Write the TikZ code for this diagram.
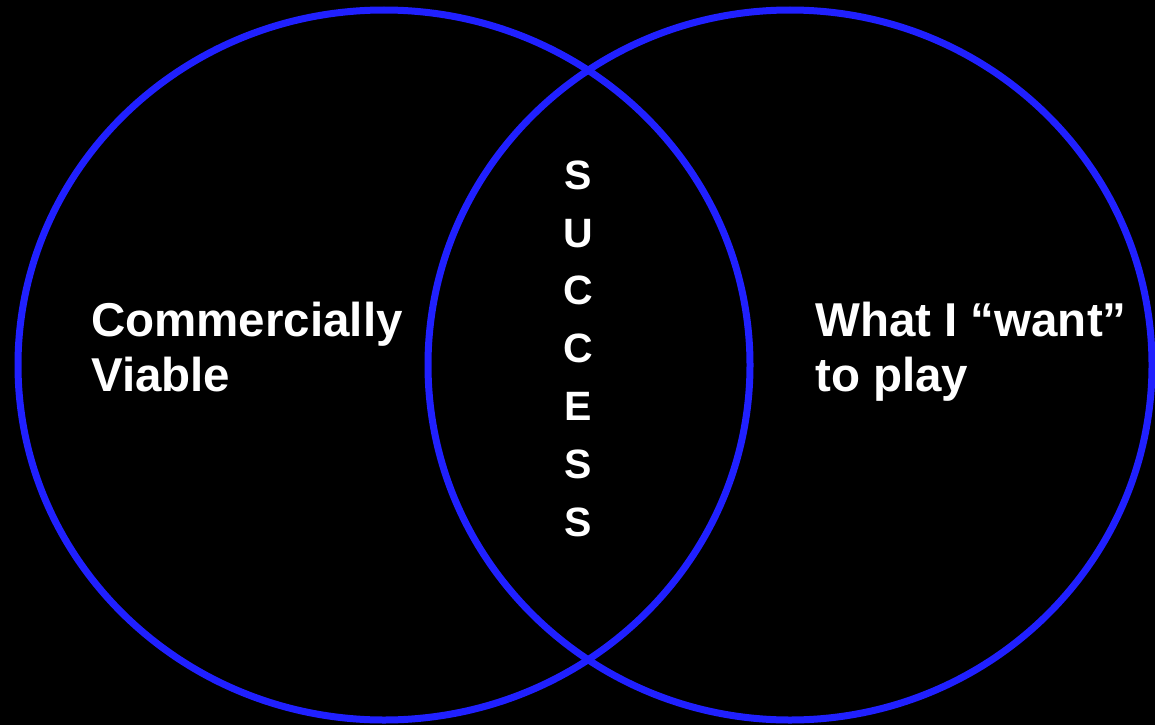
\documentclass[tikz,border=0pt]{standalone}
\usepackage{fontspec}
\setmainfont{Liberation Sans}
\definecolor{ringblue}{RGB}{32,32,255}
\begin{document}
\begin{tikzpicture}[x=1pt,y=-1pt,
  ring/.style={draw=ringblue,line width=7pt},
  label/.style={text=white,font=\bfseries\fontsize{47.5}{55}\selectfont,inner sep=0pt,align=left,anchor=base west},
  stack/.style={text=white,font=\bfseries\fontsize{41}{57.8}\selectfont,inner sep=0pt,align=center,anchor=base}]
  \fill[black] (0,0) rectangle (1155,725);
  \useasboundingbox (0,0) rectangle (1155,725);
  % two overlapping circles
  \draw[ring] (384,365) ellipse [x radius=366, y radius=355];
  \draw[ring] (790,365) ellipse [x radius=362, y radius=355];
  % labels (multi-line nodes sit on the baseline of their last line)
  \node[label] (left) at (91,391) {Commercially\\Viable};
  \node[label] (right) at (815,391) {What I “want”\\to play};
  \node[stack] (mid) at (578,536) {S\\U\\C\\C\\E\\S\\S};
\end{tikzpicture}
\end{document}
